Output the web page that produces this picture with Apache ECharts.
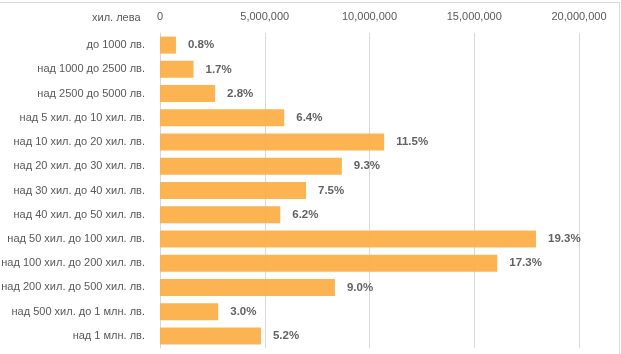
<!DOCTYPE html>
<html>
<head>
<meta charset="utf-8">
<script src="https://cdn.jsdelivr.net/npm/echarts@6/dist/echarts.min.js"></script>
<style>
html, body { margin: 0; padding: 0; background: #fff; }
#chart { width: 621px; height: 354px; }
</style>
</head>
<body>
<div id="chart"></div>
<script>
// категории (групи по размер)
var categories = [
	'до 1000 лв.',
	'над 1000 до 2500 лв.',
	'над 2500 до 5000 лв.',
	'над 5 хил. до 10 хил. лв.',
	'над 10 хил. до 20 хил. лв.',
	'над 20 хил. до 30 хил. лв.',
	'над 30 хил. до 40 хил. лв.',
	'над 40 хил. до 50 хил. лв.',
	'над 50 хил. до 100 хил. лв.',
	'над 100 хил. до 200 хил. лв.',
	'над 200 хил. до 500 хил. лв.',
	'над 500 хил. до 1 млн. лв.',
	'над 1 млн. лв.'
];
// стойности (хил. лева), отчетени от графиката
var values = [760000, 1600000, 2630000, 5930000, 10700000, 8680000, 6970000, 5740000, 17950000, 16100000, 8350000, 2780000, 4820000];
// дялове в %
var shares = ['0.8%', '1.7%', '2.8%', '6.4%', '11.5%', '9.3%', '7.5%', '6.2%', '19.3%', '17.3%', '9.0%', '3.0%', '5.2%'];
var xTicks = [0, 5000000, 10000000, 15000000, 20000000];

var font = "'Liberation Sans', Arial, sans-serif";
var myChart = echarts.init(document.getElementById('chart'));

var option = {
	animation: false,
	backgroundColor: '#fff',
	grid: {
		left: 160,
		right: 42,
		top: 33,
		bottom: 6,
		containLabel: false,
		outerBoundsMode: 'none'
	},
	graphic: [
		{ type: 'text', left: 92, top: 12, style: { text: 'хил. лева', font: '11px ' + font, fill: '#595959' } },
		{ type: 'line', shape: { x1: 0, y1: 2.5, x2: 620, y2: 2.5 }, style: { stroke: '#d9d9d9', lineWidth: 1 } },
		{ type: 'line', shape: { x1: 619.5, y1: 2, x2: 619.5, y2: 354 }, style: { stroke: '#d9d9d9', lineWidth: 1 } }
	],
	xAxis: {
		type: 'value',
		position: 'top',
		min: xTicks[0],
		max: xTicks[xTicks.length - 1],
		interval: 5000000,
		axisLine: { show: false },
		axisTick: { show: false },
		axisLabel: {
			color: '#595959',
			fontFamily: font,
			fontSize: 11,
			margin: 11,
			formatter: function (v) { return v.toLocaleString('en-US'); }
		},
		splitLine: { show: true, lineStyle: { color: '#d9d9d9', width: 1 } }
	},
	yAxis: {
		type: 'category',
		inverse: true,
		data: categories,
		axisLine: { show: true, lineStyle: { color: '#d9d9d9' } },
		axisTick: { show: false },
		axisLabel: {
			color: '#595959',
			fontFamily: font,
			fontSize: 11,
			margin: 15
		}
	},
	series: [{
		type: 'bar',
		data: values,
		barWidth: 17,
		itemStyle: { color: '#fbb048', opacity: 0.95 },
		label: {
			show: true,
			position: 'right',
			distance: 12,
			color: '#595959',
			fontFamily: font,
			fontWeight: 'bold',
			fontSize: 11.5,
			formatter: function (p) { return shares[p.dataIndex]; }
		}
	}]
};
myChart.setOption(option);
</script>
</body>
</html>
